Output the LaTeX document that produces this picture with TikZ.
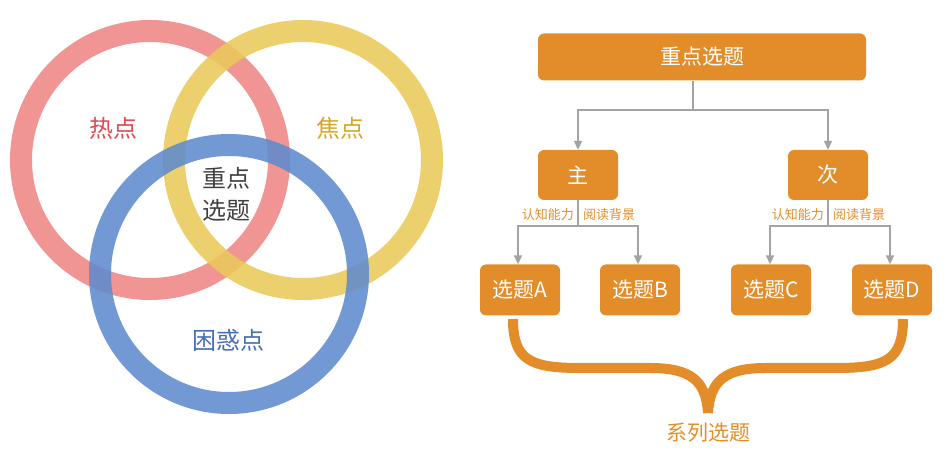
\documentclass[tikz,border=0pt]{standalone}
\usepackage{fontspec}
\setmainfont{Noto Sans CJK SC}
\usetikzlibrary{arrows.meta}
\definecolor{org}{HTML}{E38D2A}
\definecolor{gr}{HTML}{A3A3A3}
\definecolor{cr}{HTML}{EE8585}
\definecolor{cy}{HTML}{EBC95A}
\definecolor{cb}{HTML}{5F8BCD}
\begin{document}
\begin{tikzpicture}[x=1pt,y=-1pt,
 ring/.style={line width=22pt,opacity=0.88},
 box/.style={fill=org,rounded corners=6pt,text=white,font=\fontsize{21}{24}\selectfont,inner sep=0pt},
 arr/.style={draw=gr,line width=2pt,-{Triangle[width=8pt,length=9pt]}},
 ln/.style={draw=gr,line width=2pt},
 sm/.style={text=org,font=\fontsize{13}{14}\selectfont,inner sep=1pt},
 big/.style={font=\fontsize{24}{27}\selectfont}]
\useasboundingbox (0,0) rectangle (951,462);
\draw[ring,cr] (150,160) circle (129);
\draw[ring,cy] (303,160) circle (129);
\draw[ring,cb] (229,274) circle (129);
\node[big,text={rgb,255:red,225;green,75;blue,80}] (hot) at (113,128) {热点};
\node[big,text={rgb,255:red,215;green,165;blue,40}] (focus) at (340,128) {焦点};
\node[big,text=black!75,align=center,font=\fontsize{24}{32}\selectfont] (key) at (226,194) {重点\\选题};
\node[big,text={rgb,255:red,70;green,110;blue,180}] (conf) at (228,340) {困惑点};
% right
\node[box,minimum width=328pt,minimum height=47pt] (top) at (702,57) {重点选题};
\node[box,minimum width=80pt,minimum height=50pt] (zhu) at (578,175) {主};
\node[box,minimum width=80pt,minimum height=50pt] (ci) at (828,175) {次};
\node[box,minimum width=80pt,minimum height=51pt] (A) at (520,290) {选题A};
\node[box,minimum width=80pt,minimum height=51pt] (B) at (640,290) {选题B};
\node[box,minimum width=80pt,minimum height=51pt] (C) at (771,290) {选题C};
\node[box,minimum width=80pt,minimum height=51pt] (D) at (892,290) {选题D};
\draw[ln] (top.south -| 693,0) -- (693,110);
\draw[arr] (693,110) -| (zhu.north);
\draw[arr] (693,110) -| (ci.north);
\draw[ln] (zhu.south) -- (578,226);
\draw[arr] (578,226) -| (A.north -| 518,0);
\draw[arr] (578,226) -| (B.north -| 638,0);
\draw[ln] (ci.south) -- (828,226);
\draw[arr] (828,226) -| (C.north -| 770,0);
\draw[arr] (828,226) -| (D.north -| 890,0);
\node[sm,anchor=east] (l1) at (575,215) {认知能力};
\node[sm,anchor=west] (l2) at (582,215) {阅读背景};
\node[sm,anchor=east] (l3) at (825,215) {认知能力};
\node[sm,anchor=west] (l4) at (832,215) {阅读背景};
\coordinate (b1) at (513,319);
\coordinate (b2) at (903,319);
\coordinate (tip) at (708,413);
\draw[org,line width=10pt] (b1) .. controls (513,360) and (530,368) .. (580,368) -- (650,368) .. controls (690,368) and (706,380) .. (tip);
\draw[org,line width=10pt] (b2) .. controls (903,360) and (886,368) .. (836,368) -- (766,368) .. controls (726,368) and (710,380) .. (tip);
\node[text=org,font=\fontsize{21}{24}\selectfont] (ser) at (708,433) {系列选题};
\end{tikzpicture}
\end{document}
